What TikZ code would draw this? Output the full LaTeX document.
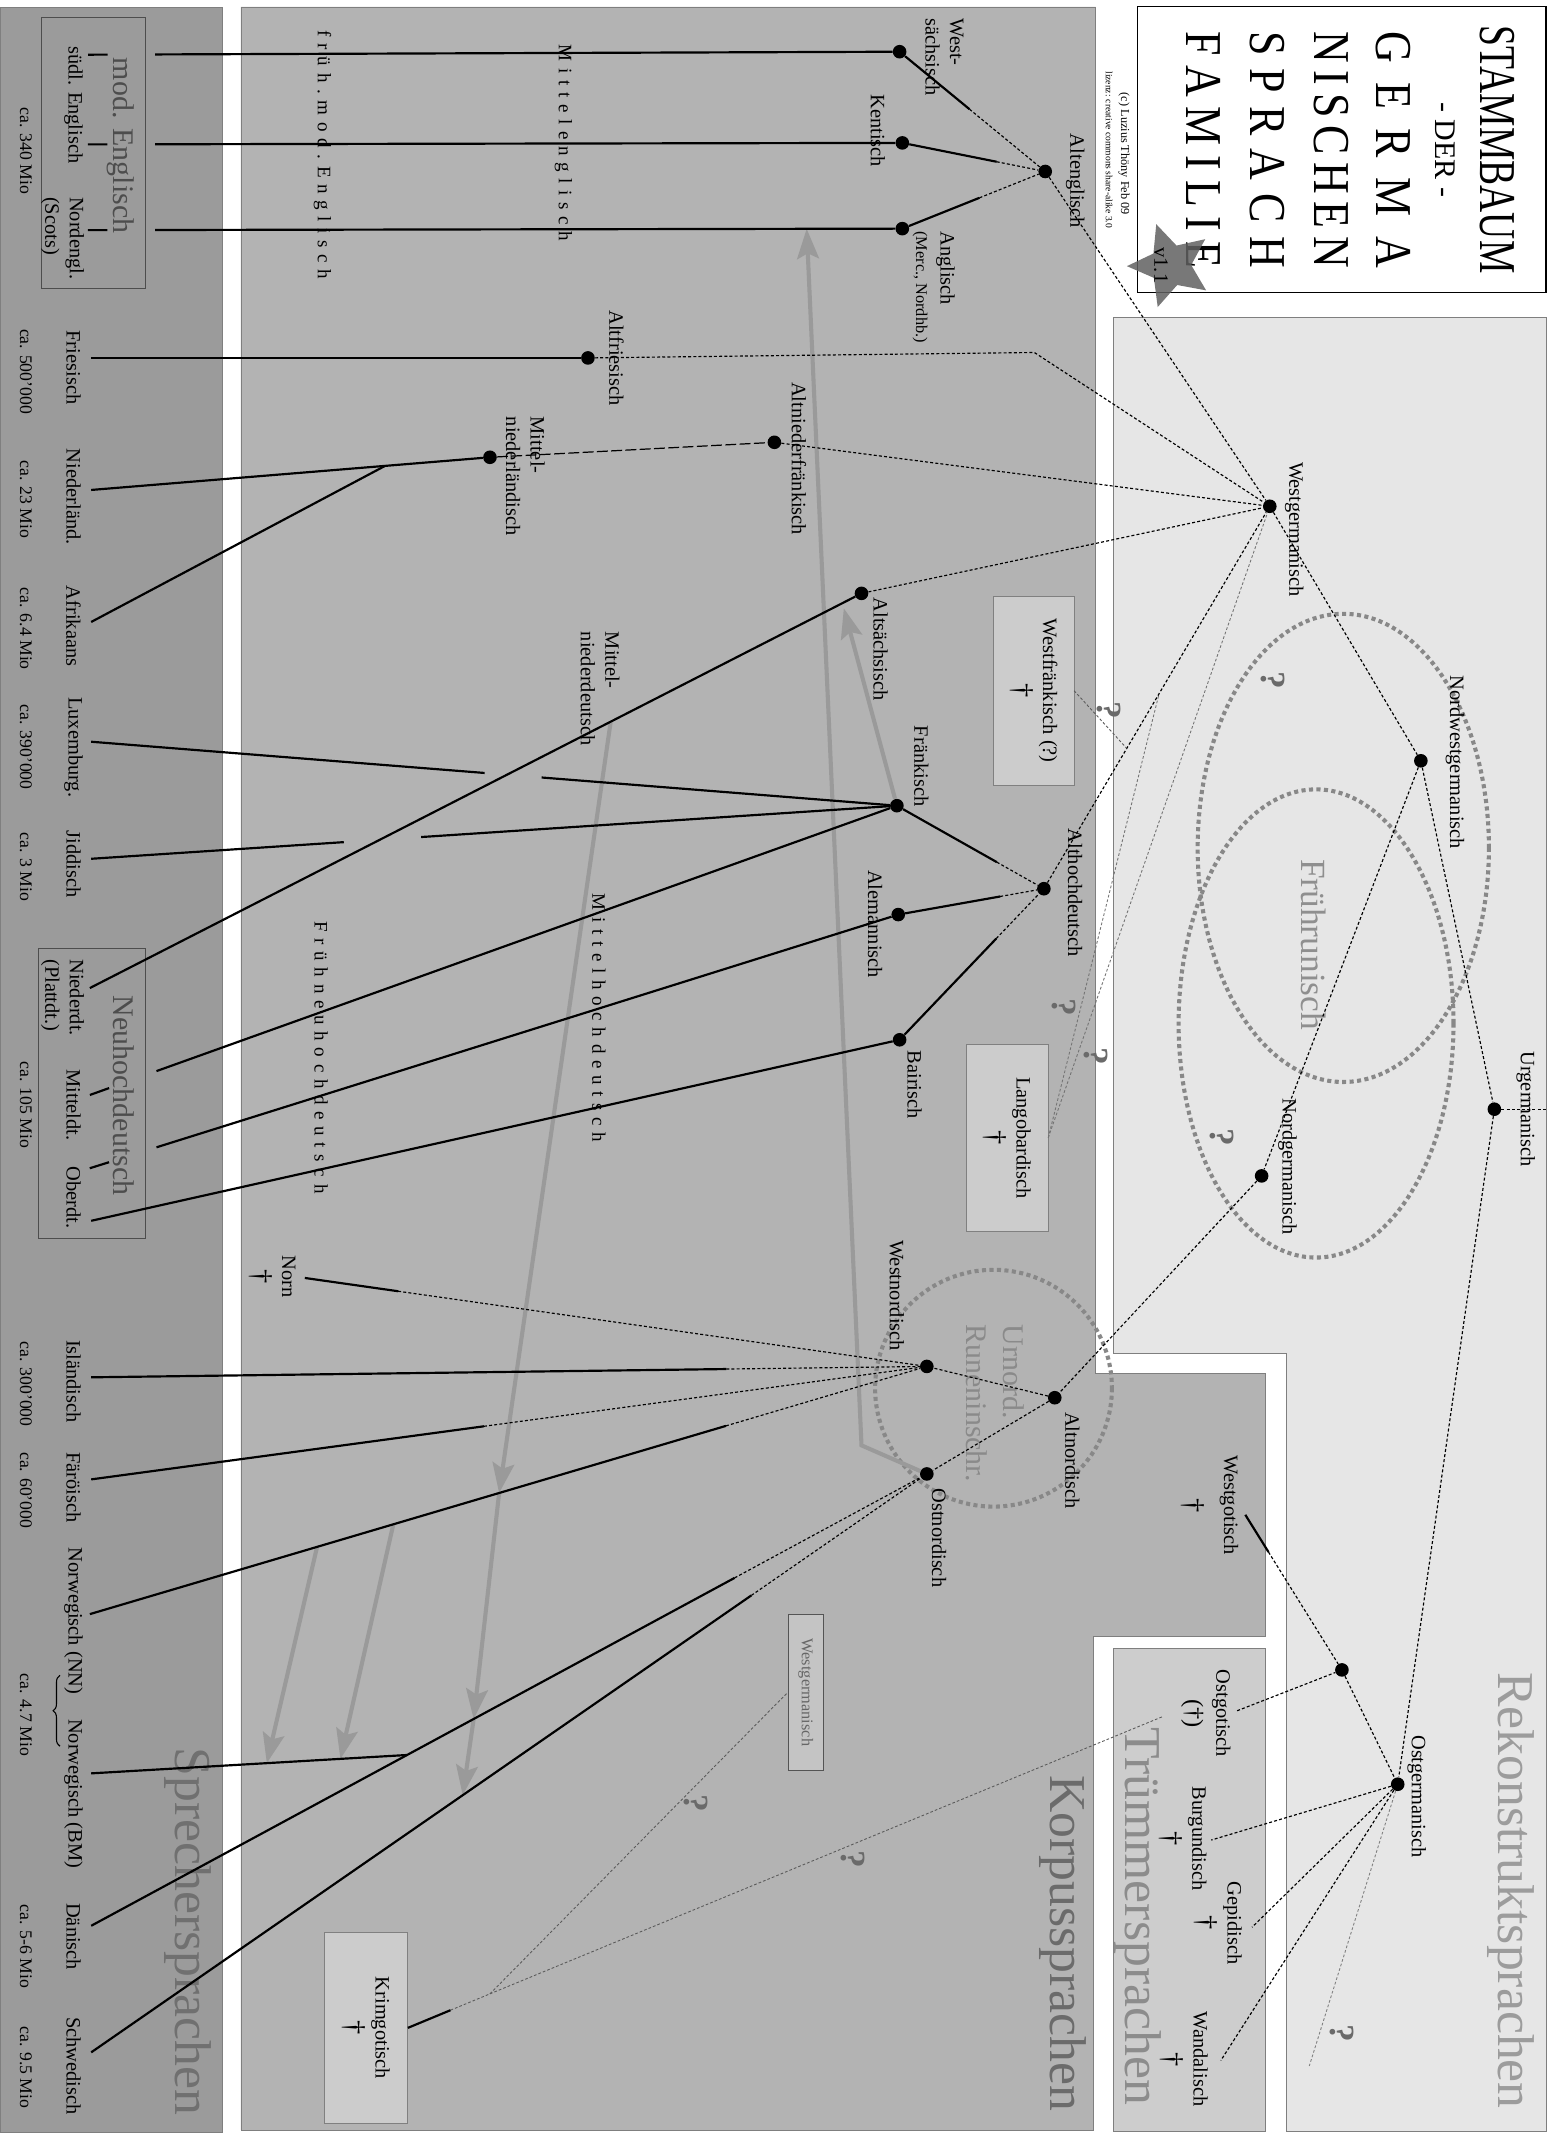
\documentclass[tikz,border=0pt]{standalone}
\usepackage{fontspec}
\setmainfont{Liberation Serif}
\newfontfamily\titlefont[FakeStretch=0.85]{Liberation Serif}
\newfontfamily\periodfont[LetterSpace=35]{Liberation Serif}
\usetikzlibrary{calc,shapes.geometric,arrows.meta,decorations.pathreplacing}

\definecolor{sprecherbg}{HTML}{9B9B9B}
\definecolor{korpusbg}{HTML}{B3B3B3}
\definecolor{rekobg}{HTML}{E6E6E6}
\definecolor{truemmerbg}{HTML}{CDCDCD}
\definecolor{panelline}{HTML}{7F7F7F}
\definecolor{boxbg}{HTML}{CCCCCC}
\definecolor{boxline}{HTML}{808080}
\definecolor{groupgray}{HTML}{4D4D4D}
\definecolor{runegray}{HTML}{888888}
\definecolor{shiftgray}{HTML}{9A9A9A}
\definecolor{guessgray}{HTML}{5A5A5A}
\definecolor{qgray}{HTML}{6A6A6A}

\newcommand{\extinct}{{\fontsize{21}{21}\selectfont †}}

\tikzset{
  dot/.style={circle, fill=black, inner sep=0pt, minimum size=10pt},
  lang/.style={rotate=-90, inner sep=1pt, align=center, font=\fontsize{15}{18}\selectfont},
  langl/.style={lang, align=left},
  dead/.style={lang, font=\fontsize{15}{22}\selectfont},
  speakers/.style={rotate=-90, inner sep=1pt, font=\fontsize{13}{15}\selectfont},
  period/.style={rotate=-90, inner sep=0pt, font=\periodfont\fontsize{14}{15}\selectfont},
  region/.style={rotate=-90, inner sep=0pt, font=\fontsize{38}{40}\selectfont},
  groupname/.style={rotate=-90, inner sep=0pt, text=groupgray, font=\fontsize{22}{24}\selectfont},
  groupbox/.style={rotate=-90, draw=groupgray, inner sep=0pt},
  relic/.style={rotate=-90, draw=boxline, fill=boxbg, inner sep=0pt, align=center, font=\fontsize{15}{22}\selectfont},
  qmark/.style={rotate=-90, text=qgray, inner sep=0pt, font=\bfseries\fontsize{26}{28}\selectfont},
  titleline/.style={rotate=-90, inner sep=0pt, font=\titlefont\fontsize{38}{40}\selectfont},
  desc/.style={line width=1.6pt},
  recon/.style={line width=0.85pt, dash pattern=on 2.2pt off 1.6pt},
  guess/.style={line width=0.65pt, draw=guessgray, dash pattern=on 2pt off 1.5pt},
  runic/.style={draw=runegray, line width=3pt, dash pattern=on 3pt off 2.5pt},
  influence/.style={draw=shiftgray, line width=3pt, -{Stealth[length=22pt,width=16pt,inset=4pt]}}
}

\begin{document}
\begin{tikzpicture}[x=1pt,y=-1pt]

%CANVAS
\fill[white] (0,0) rectangle (1140,1568);
\useasboundingbox (0,0) rectangle (1140,1568);

%PANELS
\filldraw[fill=sprecherbg, draw=panelline] (0,5) rectangle (163,1567);
\filldraw[fill=korpusbg, draw=panelline] (177,5) -- (805,5) -- (805,1009) -- (930,1009) -- (930,1202) -- (803,1202) -- (803,1565) -- (177,1565) -- cycle;
\filldraw[fill=rekobg, draw=panelline] (818,233) -- (1136,233) -- (1136,1566) -- (945,1566) -- (945,994) -- (818,994) -- cycle;
\filldraw[fill=truemmerbg, draw=panelline] (818,1211) rectangle (930,1566);

\node[region, text=black!56] (sprecher) at (138,1419) {Sprechersprachen};
\node[region, text=black!58] (korpus) at (781,1428) {Korpussprachen};
\node[region, text=black!45] (truemmer) at (836,1408) {Trümmersprachen};
\node[region, text=black!39] (rekon) at (1110,1389) {Rekonstruktsprachen};

%TITLE
\draw[line width=1pt, fill=white] (836,5) rectangle (1136,215);
\node[titleline] (t1) at (1100,110) {\scalebox{0.855}[1]{STAMMBAUM}};
\node[rotate=-90, inner sep=0pt, font=\fontsize{22}{24}\selectfont] (t2) at (1062,110) {- DER -};
\node[titleline] (t3) at (1024,110) {\makebox[174pt][s]{G\hfill E\hfill R\hfill M\hfill A}};
\node[titleline] (t4) at (978,110) {\makebox[174pt][s]{N\hfill I\hfill S\hfill C\hfill H\hfill E\hfill N}};
\node[titleline] (t5) at (931,110) {\makebox[174pt][s]{S\hfill P\hfill R\hfill A\hfill C\hfill H}};
\node[titleline] (t6) at (884,110) {\makebox[174pt][s]{F\hfill A\hfill M\hfill I\hfill L\hfill I\hfill E}};
\node[rotate=-90, inner sep=0pt, font=\fontsize{9}{10}\selectfont] (copy) at (826,113) {(c) Luzius Thöny Feb 09};
\node[rotate=-90, inner sep=0pt, font=\fontsize{7}{8}\selectfont] (licence) at (815,110) {lizenz: creative commons share-alike 3.0};
\node[star, star points=5, star point ratio=2.1, minimum size=64pt, inner sep=0pt, fill=black!62, fill opacity=0.85, shape border rotate=19] (badge) at (860,195) {};
\node[rotate=-90, inner sep=0pt, font=\fontsize{15}{16}\selectfont] (version) at (853,195) {v1.1};

%RUNIC HORIZONS
\draw[runic] (987,623) ellipse [x radius=107, y radius=172];
\draw[runic] (967,752) ellipse [x radius=101, y radius=172];
\draw[runic] (730,1020) circle [radius=87];
\node[rotate=-90, inner sep=0pt, text=black!44, font=\fontsize{26}{28}\selectfont] (fruehrun) at (965,694) {Frührunisch};
\node[rotate=-90, inner sep=0pt, align=left, text=black!46, font=\fontsize{22}{27}\selectfont] (urnord) at (731,1031) {Urnord.\\Runeninschr.};

%GROUP BOXES
\node[groupbox, minimum width=199pt, minimum height=77pt] (engbox) at (68.5,112.5) {};
\node[groupbox, minimum width=213pt, minimum height=79pt] (nhdbox) at (67.5,803.5) {};
\node[groupname] (modeng) at (89,107) {mod. Englisch};
\node[groupname] (nhd) at (91,805) {Neuhochdeutsch};

%DOTS
\node[dot] (wsx) at (661,38) {};
\node[dot] (kent) at (663,105) {};
\node[dot] (angl) at (663,168) {};
\node[dot] (aeng) at (768,126) {};
\node[dot] (afries) at (432,263) {};
\node[dot] (anfr) at (569,325) {};
\node[dot] (mnl) at (360,336) {};
\node[dot] (wgerm) at (933,372) {};
\node[dot] (asax) at (633,436) {};
\node[dot] (frk) at (659,592) {};
\node[dot] (ahd) at (767,653) {};
\node[dot] (alem) at (660,672) {};
\node[dot] (bair) at (661,764) {};
\node[dot] (nwgerm) at (1044,559) {};
\node[dot] (urgerm) at (1098,815) {};
\node[dot] (ngerm) at (927,864) {};
\node[dot] (wnord) at (681,1004) {};
\node[dot] (anord) at (775,1027) {};
\node[dot] (onord) at (681,1083) {};
\node[dot] (gotisch) at (986,1227) {};
\node[dot] (ogerm) at (1027,1311) {};

%RELIC BOXES
\node[relic, minimum width=139pt, minimum height=59pt] (wfr) at (759.5,507.5) {Westfränkisch (?)\\\extinct};
\node[relic, minimum width=138pt, minimum height=60pt] (lango) at (740,836) {Langobardisch\\\extinct};
\node[relic, minimum width=140pt, minimum height=61pt] (krim) at (269,1490) {Krimgotisch\\\extinct};
\node[rotate=-90, draw=black!67, fill=black!23, text=black!60, inner sep=0pt, minimum width=115pt, minimum height=26pt, font=\fontsize{12}{13}\selectfont] (wgbox) at (592,1243.5) {Westgermanisch};

%LINE ENDS
\coordinate (s-eng1) at (114,40);
\coordinate (s-eng2) at (114,106);
\coordinate (s-eng3) at (114,169);
\coordinate (s-fries) at (67,263);
\coordinate (s-nl) at (67,360);
\coordinate (s-afr) at (67,457);
\coordinate (s-lux) at (67,545);
\coordinate (s-jid) at (67,631);
\coordinate (s-ndt) at (66,726);
\coordinate (s-mdt) at (115,787);
\coordinate (s-odt) at (115,843);
\coordinate (s-odt2) at (67,897);
\coordinate (s-isl) at (67,1012);
\coordinate (s-far) at (67,1087);
\coordinate (s-nn) at (66,1186);
\coordinate (s-bm) at (67,1303);
\coordinate (s-dan) at (67,1415);
\coordinate (s-schw) at (67,1508);
\coordinate (e-norn) at (224,939);
\coordinate (e-wgot) at (915,1113);
\coordinate (e-ogot) at (909,1257);
\coordinate (e-burg) at (890,1352);
\coordinate (e-gep) at (920,1416);
\coordinate (e-wand) at (897,1514);
\coordinate (e-unk) at (962,1518);
\coordinate (e-deep) at (1136,815);
\coordinate (e-ogotkg) at (855,1261);
\coordinate (afrbend) at (760,259);
\coordinate (kgjunc) at (360,1465);
\coordinate (bm-branch) at ($(s-dan)!0.378!(onord)$);

%INFLUENCE ARROWS
\coordinate (ostbend) at (633,1062);
\coordinate (angl-hit) at ($(angl)!0.128!(s-eng3)$);
\coordinate (asax-hit) at (620,447);
\coordinate (mnd-start) at ($(asax)!0.325!(s-ndt)$);
\coordinate (nn-hit) at ($(s-nn)!0.489!(wnord)$);
\coordinate (dan-hit) at ($(s-dan)!0.4577!(onord)$);
\coordinate (schw-hit) at ($(s-schw)!0.4446!(onord)$);
\draw[influence] (onord) -- (ostbend) -- (angl-hit);
\draw[influence] (frk) -- (asax-hit);
\draw[influence] (mnd-start) -- (nn-hit);
\draw[influence] (nn-hit) -- (dan-hit);
\draw[influence] (dan-hit) -- (schw-hit);
\draw[influence] ($(s-nn)!0.2715!(wnord)$) -- ($(s-bm)!0.556!(bm-branch)$);
\draw[influence] ($(s-nn)!0.3626!(wnord)$) -- ($(s-bm)!0.789!(bm-branch)$);

%ENGLISCH
\draw[desc] (wsx) -- (s-eng1);
\draw[desc] (kent) -- (s-eng2);
\draw[desc] (angl) -- (s-eng3);
\draw[desc] ($(wsx)!1.064!(s-eng1)$) -- ($(wsx)!1.09!(s-eng1)$);
\draw[desc] ($(kent)!1.064!(s-eng2)$) -- ($(kent)!1.09!(s-eng2)$);
\draw[desc] ($(angl)!1.064!(s-eng3)$) -- ($(angl)!1.09!(s-eng3)$);
\draw[desc] (wsx) -- ($(wsx)!0.48!(aeng)$);
\draw[recon] ($(wsx)!0.48!(aeng)$) -- (aeng);
\draw[desc] (kent) -- ($(kent)!0.66!(aeng)$);
\draw[recon] ($(kent)!0.66!(aeng)$) -- (aeng);
\draw[desc] (angl) -- ($(angl)!0.54!(aeng)$);
\draw[recon] ($(angl)!0.54!(aeng)$) -- (aeng);
\draw[recon] (aeng) -- (wgerm);

%FRIESISCH, NIEDERLAENDISCH
\draw[desc] (afries) -- (s-fries);
\draw[recon] (afries) -- (afrbend) -- (wgerm);
\draw[recon] (anfr) -- (wgerm);
\draw[line width=0.9pt, dash pattern=on 8pt off 2.5pt] (mnl) -- (anfr);
\draw[desc] (mnl) -- (s-nl);
\draw[desc] ($(mnl)!0.263!(s-nl)$) -- (s-afr);

%DEUTSCH
\draw[recon] (asax) -- (wgerm);
\draw[desc, dash pattern=on 290pt off 42pt on 400pt] (s-lux) -- (frk);
\draw[desc, dash pattern=on 186pt off 57pt on 450pt] (s-jid) -- (frk);
\draw[desc] (asax) -- (s-ndt);
\draw[desc] (frk) -- (s-mdt);
\draw[desc] ($(frk)!1.064!(s-mdt)$) -- ($(frk)!1.09!(s-mdt)$);
\draw[desc] (alem) -- (s-odt);
\draw[desc] ($(alem)!1.064!(s-odt)$) -- ($(alem)!1.09!(s-odt)$);
\draw[desc] (bair) -- (s-odt2);
\draw[desc] (frk) -- ($(frk)!0.68!(ahd)$);
\draw[recon] ($(frk)!0.68!(ahd)$) -- (ahd);
\draw[desc] (alem) -- ($(alem)!0.70!(ahd)$);
\draw[recon] ($(alem)!0.70!(ahd)$) -- (ahd);
\draw[desc] (bair) -- ($(bair)!0.67!(ahd)$);
\draw[recon] ($(bair)!0.67!(ahd)$) -- (ahd);
\draw[recon] (ahd) -- (wgerm);
\draw[guess] (wfr.north) -- ($(wgerm)!0.633!(ahd)$);
\draw[guess, draw=black!55] (lango.north) -- (wgerm);
\draw[guess, draw=black!55] (lango.north) -- ($(wgerm)!0.49!(ahd)$);

%NORDISCH
\draw[recon] (wgerm) -- (nwgerm);
\draw[recon] (nwgerm) -- (urgerm);
\draw[recon] (nwgerm) -- (ngerm);
\draw[recon] (ngerm) -- (anord);
\draw[recon] (anord) -- (wnord);
\draw[recon] (anord) -- (onord);
\draw[desc] (e-norn) -- ($(e-norn)!0.15!(wnord)$);
\draw[recon] ($(e-norn)!0.15!(wnord)$) -- (wnord);
\draw[desc] (s-isl) -- ($(s-isl)!0.76!(wnord)$);
\draw[recon] ($(s-isl)!0.76!(wnord)$) -- (wnord);
\draw[desc] (s-far) -- ($(s-far)!0.47!(wnord)$);
\draw[recon] ($(s-far)!0.47!(wnord)$) -- (wnord);
\draw[desc] (s-nn) -- ($(s-nn)!0.76!(wnord)$);
\draw[recon] ($(s-nn)!0.76!(wnord)$) -- (wnord);
\draw[desc] (s-dan) -- ($(s-dan)!0.77!(onord)$);
\draw[recon] ($(s-dan)!0.77!(onord)$) -- (onord);
\draw[desc] (s-bm) -- (bm-branch);
\draw[desc] (s-schw) -- ($(s-schw)!0.79!(onord)$);
\draw[recon] ($(s-schw)!0.79!(onord)$) -- (onord);

%OSTGERMANISCH
\draw[recon] (urgerm) -- (e-deep);
\draw[recon] (urgerm) -- (ogerm);
\draw[recon] (gotisch) -- (ogerm);
\draw[desc] (e-wgot) -- ($(e-wgot)!0.24!(gotisch)$);
\draw[recon] ($(e-wgot)!0.24!(gotisch)$) -- (gotisch);
\draw[recon] (e-ogot) -- (gotisch);
\draw[recon] (ogerm) -- (e-burg);
\draw[recon] (ogerm) -- (e-gep);
\draw[recon] (ogerm) -- (e-wand);
\draw[guess, draw=black!50] (ogerm) -- (e-unk);
\draw[desc] (krim.north) -- ($(krim.north)!0.52!(kgjunc)$);
\draw[guess] ($(krim.north)!0.52!(kgjunc)$) -- (kgjunc);
\draw[guess] (kgjunc) -- (wgbox.south);
\draw[guess] (kgjunc) -- (e-ogotkg);

%QUESTION MARKS
\node[qmark] (q1) at (935,500) {?};
\node[qmark] (q2) at (815,522) {?};
\node[qmark] (q3) at (782,740) {?};
\node[qmark] (q4) at (805,776) {?};
\node[qmark] (q5) at (898,836) {?};
\node[qmark] (q6) at (511,1325) {?};
\node[qmark] (q7) at (627,1366) {?};
\node[qmark] (q8) at (986,1494) {?};

%LABELS KORPUS
\node[langl] (l-wsx) at (694,42) {West-\\sächsisch};
\node[lang] (l-kent) at (645,96) {Kentisch};
\node[langl] (l-angl) at (686,211) {Anglisch\\{\fontsize{12}{14}\selectfont(Merc., Nordhb.)}};
\node[lang] (l-aeng) at (790,133) {Altenglisch};
\node[lang] (l-afries) at (453,263) {Altfriesisch};
\node[lang] (l-anfr) at (587,337) {Altniederfränkisch};
\node[langl] (l-mnl) at (386,350) {Mittel-\\niederländisch};
\node[lang] (l-asax) at (647,477) {Altsächsisch};
\node[langl] (l-mnd) at (441,506) {Mittel-\\niederdeutsch};
\node[lang] (l-frk) at (677,563) {Fränkisch};
\node[lang] (l-ahd) at (790,656) {Althochdeutsch};
\node[lang] (l-alem) at (643,679) {Alemannisch};
\node[lang] (l-bair) at (672,797) {Bairisch};
\node[lang] (l-wnord) at (659,952) {Westnordisch};
\node[lang] (l-onord) at (690,1130) {Ostnordisch};
\node[lang] (l-anord) at (788,1073) {Altnordisch};
\node[dead] (l-norn) at (200,938) {Norn\\\extinct};
\node[period] (p-meng) at (414,105) {Mittelenglisch};
\node[period] (p-fmeng) at (237,114) {früh.mod.Englisch};
\node[period] (p-mhd) at (440,748) {Mittelhochdeutsch};
\node[period] (p-fnhd) at (236,777) {Frühneuhochdeutsch};

%LABELS REKONSTRUKT
\node[lang] (l-wgerm) at (951,389) {Westgermanisch};
\node[lang] (l-nwgerm) at (1069,560) {Nordwestgermanisch};
\node[lang] (l-urgerm) at (1121,815) {Urgermanisch};
\node[lang] (l-ngerm) at (946,857) {Nordgermanisch};
\node[lang] (l-ogerm) at (1041,1320) {Ostgermanisch};
\node[dead, font=\fontsize{15}{29}\selectfont] (l-wgot) at (889,1106) {Westgotisch\\\extinct};
\node[dead] (l-ogot) at (886,1259) {Ostgotisch\\{\fontsize{18}{18}\selectfont(†)}};
\node[dead] (l-burg) at (869,1351) {Burgundisch\\\extinct};
\node[dead] (l-gep) at (895,1413) {Gepidisch\\\extinct};
\node[dead] (l-wand) at (870,1513) {Wandalisch\\\extinct};

%LABELS SPRECHER
\node[lang] (l-seng) at (54,77) {südl. Englisch};
\node[langl] (l-nengl) at (46,175) {Nordengl.\\(Scots)};
\node[speakers] (n-eng) at (19,111) {ca. 340 Mio};
\node[lang] (l-fries) at (54,270) {Friesisch};
\node[speakers] (n-fries) at (19,273) {ca. 500'000};
\node[lang] (l-nl) at (54,365) {Niederländ.};
\node[speakers] (n-nl) at (19,367) {ca. 23 Mio};
\node[lang] (l-afr) at (54,460) {Afrikaans};
\node[speakers] (n-afr) at (19,462) {ca. 6.4 Mio};
\node[lang] (l-lux) at (54,549) {Luxemburg.};
\node[speakers] (n-lux) at (19,549) {ca. 390'000};
\node[lang] (l-jid) at (54,635) {Jiddisch};
\node[speakers] (n-jid) at (19,637) {ca. 3 Mio};
\node[langl] (l-ndt) at (46,733) {Niederdt.\\(Plattdt.)};
\node[lang] (l-mdt) at (54,812) {Mitteldt.};
\node[lang] (l-odt) at (54,880) {Oberdt.};
\node[speakers] (n-nhd) at (19,812) {ca. 105 Mio};
\node[lang] (l-isl) at (54,1015) {Isländisch};
\node[speakers] (n-isl) at (19,1017) {ca. 300'000};
\node[lang] (l-far) at (54,1093) {Färöisch};
\node[speakers] (n-far) at (19,1095) {ca. 60'000};
\node[lang] (l-nn) at (54,1191) {Norwegisch (NN)};
\node[lang] (l-bm) at (54,1318) {Norwegisch (BM)};
\draw[decorate, decoration={brace, amplitude=5pt}, line width=0.8pt] (44,1283) -- (44,1231);
\node[speakers] (n-nor) at (19,1260) {ca. 4.7 Mio};
\node[lang] (l-dan) at (54,1423) {Dänisch};
\node[speakers] (n-dan) at (19,1430) {ca. 5-6 Mio};
\node[lang] (l-schw) at (54,1518) {Schwedisch};
\node[speakers] (n-schw) at (19,1519) {ca. 9.5 Mio};

\end{tikzpicture}
\end{document}
